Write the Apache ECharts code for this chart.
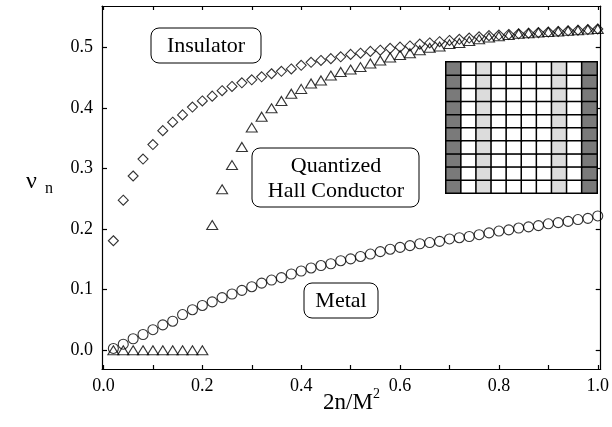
<!DOCTYPE html>
<html>
<head>
<meta charset="utf-8">
<script src="https://cdn.jsdelivr.net/npm/echarts@6/dist/echarts.min.js"></script>
<style>
  html, body { margin: 0; padding: 0; background: #fff; }
  #chart { width: 612px; height: 427px; }
</style>
</head>
<body>
<div id="chart"></div>
<script>
// 2n/M^2 values, shared by all three series
const xValues = [0.02, 0.04, 0.06, 0.08, 0.10, 0.12, 0.14, 0.16, 0.18, 0.20,
  0.22, 0.24, 0.26, 0.28, 0.30, 0.32, 0.34, 0.36, 0.38, 0.40,
  0.42, 0.44, 0.46, 0.48, 0.50, 0.52, 0.54, 0.56, 0.58, 0.60,
  0.62, 0.64, 0.66, 0.68, 0.70, 0.72, 0.74, 0.76, 0.78, 0.80,
  0.82, 0.84, 0.86, 0.88, 0.90, 0.92, 0.94, 0.96, 0.98, 1.00]

// insulator (diamonds)
const insulator = [0.181, 0.248, 0.288, 0.316, 0.340, 0.363, 0.377, 0.389, 0.402, 0.412,
  0.420, 0.429, 0.436, 0.442, 0.447, 0.452, 0.457, 0.461, 0.465, 0.471,
  0.476, 0.479, 0.482, 0.485, 0.489, 0.491, 0.494, 0.496, 0.499, 0.501,
  0.503, 0.506, 0.508, 0.510, 0.512, 0.514, 0.516, 0.518, 0.520, 0.521,
  0.522, 0.523, 0.524, 0.525, 0.526, 0.527, 0.528, 0.529, 0.530, 0.531]

// quantized hall conductor (triangles)
const hall = [0, 0, 0, 0, 0, 0, 0, 0, 0, 0,
  0.207, 0.266, 0.306, 0.336, 0.368, 0.386, 0.400, 0.412, 0.424, 0.432,
  0.441, 0.446, 0.454, 0.460, 0.464, 0.468, 0.474, 0.479, 0.484, 0.488,
  0.491, 0.496, 0.500, 0.502, 0.506, 0.508, 0.511, 0.514, 0.517, 0.519,
  0.521, 0.523, 0.524, 0.525, 0.526, 0.527, 0.528, 0.529, 0.530, 0.531]

// metal (circles)
const metal = [0.003, 0.010, 0.019, 0.026, 0.034, 0.042, 0.048, 0.059, 0.067, 0.074,
  0.080, 0.087, 0.093, 0.099, 0.105, 0.111, 0.116, 0.120, 0.126, 0.131,
  0.136, 0.140, 0.143, 0.148, 0.151, 0.155, 0.159, 0.163, 0.167, 0.170,
  0.173, 0.176, 0.178, 0.180, 0.184, 0.186, 0.188, 0.191, 0.194, 0.197,
  0.199, 0.202, 0.204, 0.206, 0.209, 0.211, 0.213, 0.216, 0.218, 0.222]

const xTicks = [0, 0.1, 0.2, 0.3, 0.4, 0.5, 0.6, 0.7, 0.8, 0.9, 1.0]
const xLabels = [0, 0.2, 0.4, 0.6, 0.8, 1.0]
const yTicks = [0, 0.1, 0.2, 0.3, 0.4, 0.5]

// inset lattice: 0 white, 1 light grey, 2 dark edge
const latticeCols = [2, 0, 1, 0, 0, 0, 0, 1, 0, 2]
const latticeRows = 10

const serif = '"Liberation Serif", "DejaVu Serif", serif'

function pairs(ys) {
  return xValues.map((x, i) => [x, ys[i]])
}

const latticeData = []
for (let r = 0; r < latticeRows; r++) {
  latticeCols.forEach((v, c) => latticeData.push([c, r, v]))
}

const chart = echarts.init(document.getElementById('chart'))

const lineStyle = { color: '#000', width: 1.2 }
const hollow = { color: 'rgba(0,0,0,0)', borderColor: '#000', borderWidth: 1.1 }

const option = {
  animation: false,
  backgroundColor: '#fff',
  grid: [
    { left: 102, right: 6, top: 6, bottom: 58, show: false },
    { left: 446, top: 62, width: 151, height: 131, show: false }
  ],
  xAxis: [
    {
      type: 'value', gridIndex: 0, position: 'bottom',
      min: -0.003, max: 1.006,
      axisLine: { onZero: false, lineStyle: lineStyle },
      axisTick: { inside: true, length: 4, customValues: xTicks, lineStyle: lineStyle },
      axisLabel: {
        customValues: xLabels, margin: 8,
        formatter: v => v.toFixed(1),
        color: '#000', fontFamily: serif, fontSize: 18
      },
      splitLine: { show: false }
    },
    {
      type: 'value', gridIndex: 0, position: 'top',
      min: -0.003, max: 1.006,
      axisLine: { onZero: false, lineStyle: lineStyle },
      axisTick: { inside: true, length: 4, customValues: xTicks, lineStyle: lineStyle },
      axisLabel: { show: false },
      splitLine: { show: false }
    },
    {
      type: 'category', gridIndex: 1, show: false,
      data: latticeCols.map((v, i) => i)
    }
  ],
  yAxis: [
    {
      type: 'value', gridIndex: 0, position: 'left',
      min: -0.031, max: 0.569,
      axisLine: { show: true, onZero: false, lineStyle: lineStyle },
      axisTick: { show: true, inside: true, length: 5, customValues: yTicks, lineStyle: lineStyle },
      axisLabel: {
        customValues: yTicks, margin: 9,
        formatter: v => v.toFixed(1),
        color: '#000', fontFamily: serif, fontSize: 18
      },
      splitLine: { show: false }
    },
    {
      type: 'value', gridIndex: 0, position: 'right',
      min: -0.031, max: 0.569,
      axisLine: { show: true, onZero: false, lineStyle: lineStyle },
      axisTick: { show: true, inside: true, length: 5, customValues: yTicks, lineStyle: lineStyle },
      axisLabel: { show: false },
      splitLine: { show: false }
    },
    {
      type: 'category', gridIndex: 1, show: false,
      data: Array.from({ length: latticeRows }, (v, i) => i)
    }
  ],
  visualMap: {
    type: 'piecewise', show: false, seriesIndex: 3, dimension: 2,
    pieces: [
      { value: 0, color: '#ffffff' },
      { value: 1, color: '#dcdcdc' },
      { value: 2, color: '#7a7a7a' }
    ]
  },
  series: [
    {
      name: 'Insulator', type: 'scatter', xAxisIndex: 0, yAxisIndex: 0,
      symbol: 'diamond', symbolSize: [10, 10],
      itemStyle: hollow, data: pairs(insulator)
    },
    {
      name: 'Hall', type: 'scatter', xAxisIndex: 0, yAxisIndex: 0,
      symbol: 'triangle', symbolSize: [11, 9],
      itemStyle: hollow, data: pairs(hall)
    },
    {
      name: 'Metal', type: 'scatter', xAxisIndex: 0, yAxisIndex: 0,
      symbol: 'circle', symbolSize: 10,
      itemStyle: hollow, data: pairs(metal)
    },
    {
      name: 'lattice', type: 'heatmap', xAxisIndex: 2, yAxisIndex: 2,
      itemStyle: { borderColor: '#000', borderWidth: 1.5 },
      emphasis: { disabled: true },
      data: latticeData
    }
  ],
  graphic: [
    // region labels
    { type: 'rect', shape: { x: 151, y: 28, width: 110, height: 35, r: 8 },
      style: { fill: '#fff', stroke: '#000', lineWidth: 1 } },
    { type: 'text', x: 206, y: 46,
      style: { text: 'Insulator', font: '22px ' + serif, fill: '#000', textAlign: 'center', textVerticalAlign: 'middle' } },
    { type: 'rect', shape: { x: 252, y: 148, width: 167, height: 59, r: 8 },
      style: { fill: '#fff', stroke: '#000', lineWidth: 1 } },
    { type: 'text', x: 336, y: 166,
      style: { text: 'Quantized', font: '22px ' + serif, fill: '#000', textAlign: 'center', textVerticalAlign: 'middle' } },
    { type: 'text', x: 336, y: 191,
      style: { text: 'Hall Conductor', font: '22px ' + serif, fill: '#000', textAlign: 'center', textVerticalAlign: 'middle' } },
    { type: 'rect', shape: { x: 304, y: 283, width: 74, height: 35, r: 8 },
      style: { fill: '#fff', stroke: '#000', lineWidth: 1 } },
    { type: 'text', x: 341, y: 301,
      style: { text: 'Metal', font: '22px ' + serif, fill: '#000', textAlign: 'center', textVerticalAlign: 'middle' } },
    // axis titles
    { type: 'text', x: 323, y: 403,
      style: { text: '2n/M', font: '23px ' + serif, fill: '#000', textAlign: 'left', textVerticalAlign: 'middle' } },
    { type: 'text', x: 373, y: 394,
      style: { text: '2', font: '14px ' + serif, fill: '#000', textAlign: 'left', textVerticalAlign: 'middle' } },
    { type: 'text', x: 26, y: 182,
      style: { text: 'ν', font: '24px ' + serif, fill: '#000', textAlign: 'left', textVerticalAlign: 'middle' } },
    { type: 'text', x: 45, y: 189,
      style: { text: 'n', font: '16px ' + serif, fill: '#000', textAlign: 'left', textVerticalAlign: 'middle' } }
  ]
}

chart.setOption(option)
</script>
</body>
</html>
